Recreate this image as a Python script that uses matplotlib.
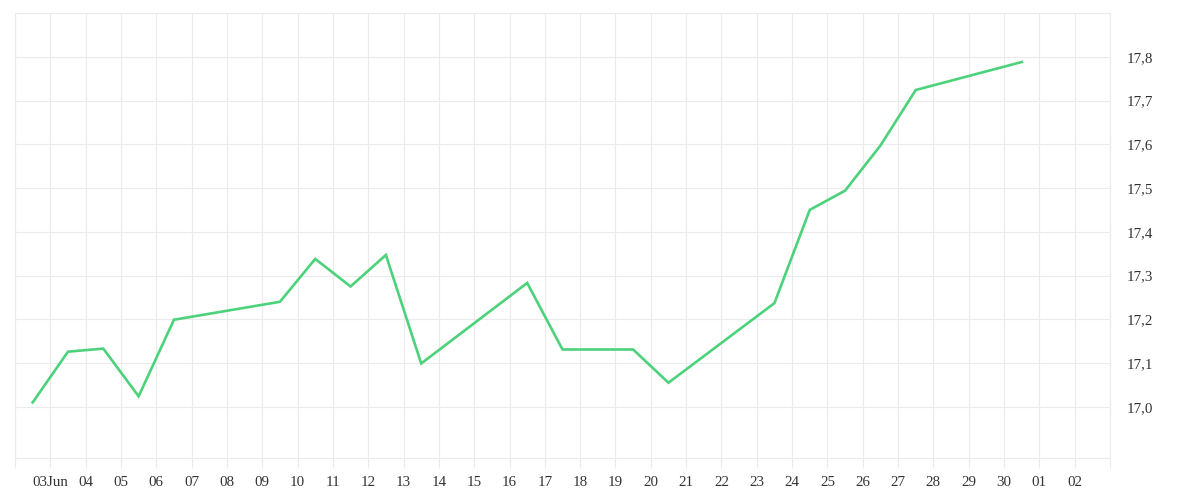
import matplotlib
matplotlib.use("Agg")
import matplotlib.pyplot as plt
import matplotlib.dates as mdates
import pandas as pd

# daily closing values (plotted at midday)
dates = [
    "2023-06-02", "2023-06-03", "2023-06-04", "2023-06-05", "2023-06-06",
    "2023-06-09", "2023-06-10", "2023-06-11", "2023-06-12", "2023-06-13",
    "2023-06-16", "2023-06-17", "2023-06-19", "2023-06-20", "2023-06-23",
    "2023-06-24", "2023-06-25", "2023-06-26", "2023-06-27", "2023-06-30",
]
values = [
    17.010, 17.126, 17.133, 17.024, 17.199,
    17.240, 17.338, 17.275, 17.347, 17.099,
    17.283, 17.131, 17.131, 17.055, 17.237,
    17.450, 17.494, 17.597, 17.724, 17.788,
]
tick_labels = ["", "03Jun"] + ["%02d" % d for d in range(4, 31)] + ["01", "02", ""]
y_ticks = [17.0, 17.1, 17.2, 17.3, 17.4, 17.5, 17.6, 17.7, 17.8]

plt.rcParams["font.family"] = ["Liberation Serif", "DejaVu Serif"]

x = pd.to_datetime(dates) + pd.Timedelta(hours=12)
tick_pos = pd.date_range("2023-06-02", "2023-07-03", freq="D")

fig = plt.figure(figsize=(12, 5), dpi=100)
ax = fig.add_axes([15 / 1200, 1 - 458 / 500, 1095 / 1200, 445 / 500])

ax.plot(x, values, color="#4cd27b", linewidth=1.9, solid_joinstyle="miter")

ax.set_xlim(tick_pos[0], tick_pos[-1])
ax.set_ylim(16.883, 17.9)
ax.set_xticks(tick_pos)
ax.set_xticklabels(tick_labels)
ax.set_yticks(y_ticks + [17.9])
ax.set_yticklabels([("%.1f" % v).replace(".", ",") for v in y_ticks] + [""])

ax.yaxis.tick_right()
ax.tick_params(axis="y", length=0, pad=12, labelsize=10.8, labelcolor="#333333")
ax.tick_params(axis="x", length=7.2, width=0.8, color="#ebebeb", pad=6,
               labelsize=10.8, labelcolor="#333333")
ax.grid(True, color="#ebebeb", linewidth=0.8)
ax.set_axisbelow(True)
for s in ax.spines.values():
    s.set_color("#ebebeb")
    s.set_linewidth(0.8)

fig.savefig("out.png", dpi=100)
